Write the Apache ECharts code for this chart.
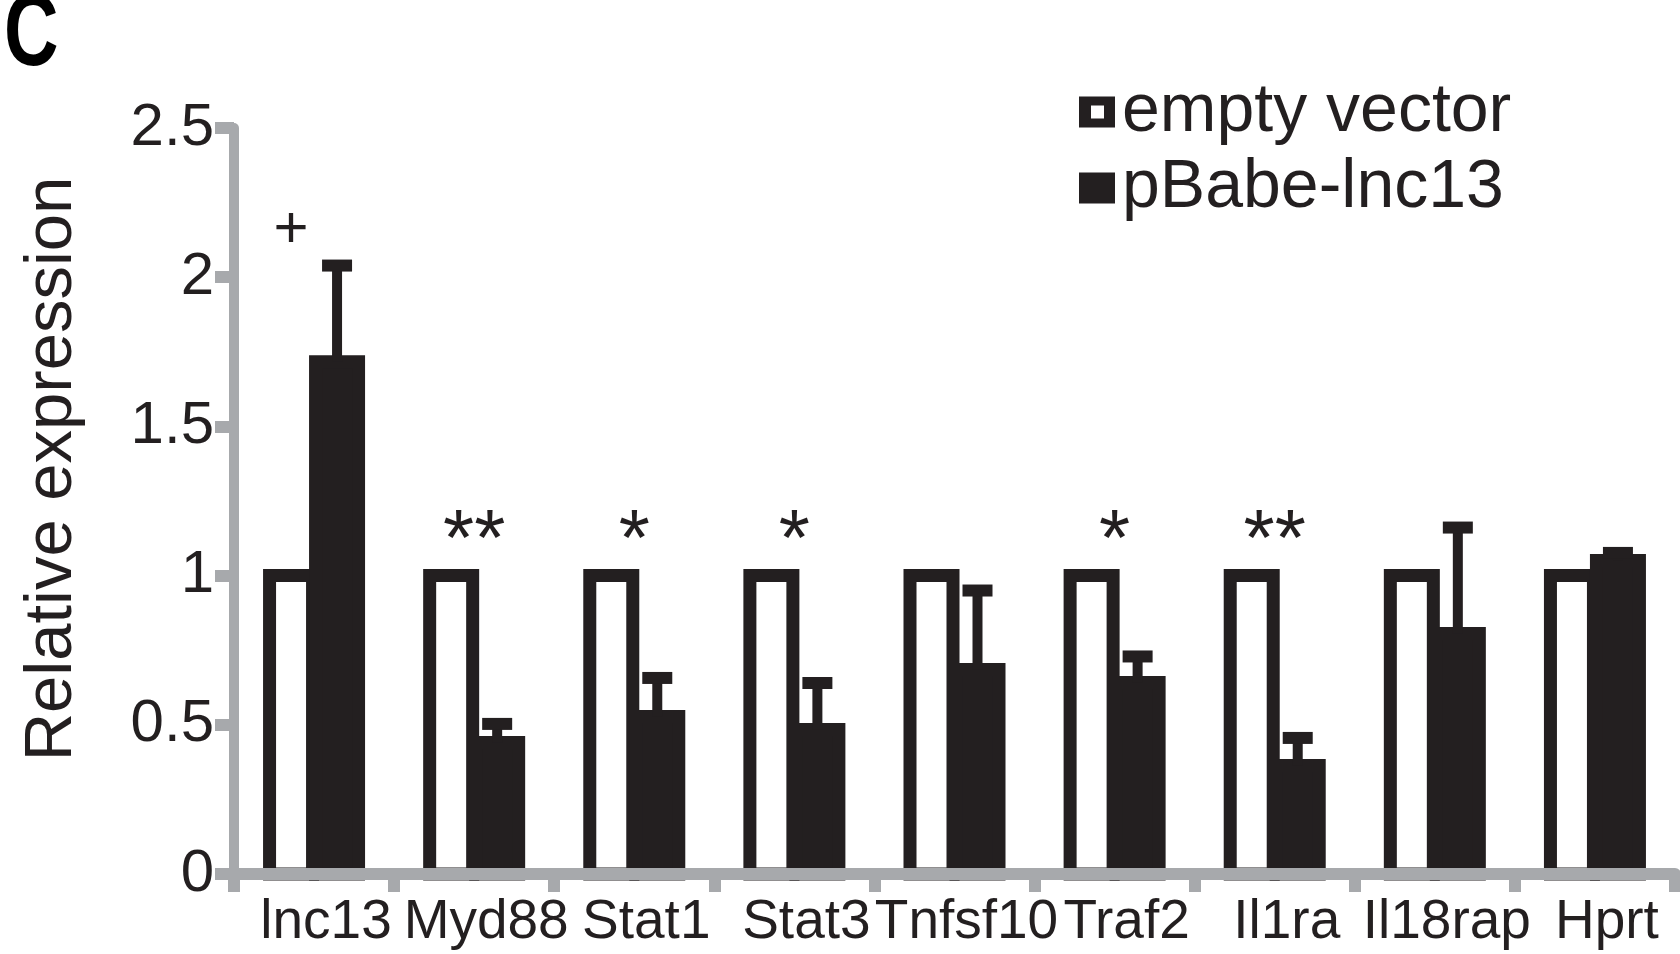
<!DOCTYPE html>
<html>
<head>
<meta charset="utf-8">
<script src="https://cdn.jsdelivr.net/npm/echarts@6/dist/echarts.min.js"></script>
<style>
html,body{margin:0;padding:0;background:#fff;}
#chart{width:1680px;height:954px;}
</style>
</head>
<body>
<div id="chart"></div>
<script>
// ---- data ----
const categories = ['lnc13', 'Myd88', 'Stat1', 'Stat3', 'Tnfsf10', 'Traf2', 'Il1ra', 'Il18rap', 'Hprt'];
const emptyVector = [1, 1, 1, 1, 1, 1, 1, 1, 1];
const pBabeLnc13 = [1.717, 0.441, 0.528, 0.484, 0.685, 0.642, 0.364, 0.806, 1.051];
const pBabeErrUpper = [2.039, 0.503, 0.657, 0.640, 0.950, 0.729, 0.456, 1.161, 1.076];
const annotationCats = ['lnc13', 'Myd88', 'Stat1', 'Stat3', 'Traf2', 'Il1ra'];
const annotationText = ['+', '**', '*', '*', '*', '**'];
const annotationY = [2.155, 1.11, 1.11, 1.11, 1.11, 1.11];
const yTicks = [0, 0.5, 1, 1.5, 2, 2.5];
const seriesNames = ['empty vector', 'pBabe-lnc13'];

// ---- styling constants ----
const INK = '#231f20';
const GREY = '#a7a9ac';
const FONT = "'Liberation Sans', Arial, Helvetica, sans-serif";
const BAR_W = 43;      // bar body width (border drawn centred on its edge)
const BORDER = 13;
const BLACK_OFFSET = 23; // half distance between the two bar centres

const chart = echarts.init(document.getElementById('chart'), null, {renderer: 'canvas'});

const whiteData = categories.map((c, i) => [i, emptyVector[i]]);
const blackData = categories.map((c, i) => [i, pBabeLnc13[i]]);
const errData = categories.map((c, i) => [i, pBabeLnc13[i], pBabeErrUpper[i]]);
const annData = annotationCats.map((c, k) => [categories.indexOf(c), annotationY[k], k]);

function barRenderer(sign, fill) {
  return function (params, api) {
    const top = api.coord([api.value(0), api.value(1)]);
    const zero = api.coord([api.value(0), 0]);
    const cx = top[0] + sign * BLACK_OFFSET;
    return {
      type: 'rect',
      shape: {x: cx - BAR_W / 2, y: top[1], width: BAR_W, height: zero[1] - top[1]},
      style: {fill: fill, stroke: INK, lineWidth: BORDER}
    };
  };
}

const option = {
  animation: false,
  backgroundColor: '#fff',
  graphic: [{
    type: 'text', left: 4, top: -14, scaleX: 0.74,
    style: {text: 'C', fill: '#000', font: "bold 102px 'Liberation Sans', Arial, sans-serif"}
  }],
  legend: {
    orient: 'vertical', left: 1074, top: 73, itemGap: 8,
    itemWidth: 36, itemHeight: 31,
    textStyle: {fontFamily: FONT, fontSize: 68, color: INK, padding: [0, 0, 0, 2]},
    data: [
      {name: seriesNames[0], icon: 'path://M0,0H36V31H0Z M12,9V22H25V9Z', itemStyle: {color: INK, borderWidth: 0}},
      {name: seriesNames[1], icon: 'rect', itemStyle: {color: INK, borderWidth: 0}}
    ]
  },
  grid: {left: 234, right: 5, top: 128, bottom: 80},
  xAxis: {
    type: 'category', data: categories, z: 10,
    axisLine: {lineStyle: {color: GREY, width: 12}},
    axisTick: {show: true, length: 18, lineStyle: {color: GREY, width: 12}},
    axisLabel: {interval: 0, margin: 21, fontFamily: FONT, fontSize: 55, color: INK, padding: [0, 0, 0, 24]}
  },
  yAxis: {
    type: 'value', min: yTicks[0], max: yTicks[yTicks.length - 1], interval: 0.5, z: 10,
    name: 'Relative expression', nameLocation: 'middle', nameGap: 148, nameRotate: 90,
    nameTextStyle: {fontFamily: FONT, fontSize: 67, color: INK, padding: [0, 0, 0, 64]},
    splitLine: {show: false},
    axisLine: {show: true, lineStyle: {color: GREY, width: 10}},
    axisTick: {show: true, length: 19, lineStyle: {color: GREY, width: 12}},
    axisLabel: {margin: 20, fontFamily: FONT, fontSize: 60, color: INK}
  },
  series: [
    {
      name: seriesNames[0], type: 'custom', z: 2, data: whiteData,
      encode: {x: 0, y: 1},
      itemStyle: {color: '#fff'},
      renderItem: barRenderer(-1, '#fff')
    },
    {
      name: seriesNames[1], type: 'custom', z: 2, data: blackData,
      encode: {x: 0, y: 1},
      itemStyle: {color: INK},
      renderItem: barRenderer(1, INK)
    },
    {
      type: 'custom', name: 'err', z: 3, data: errData,
      encode: {x: 0, y: 2},
      renderItem: function (params, api) {
        const base = api.coord([api.value(0), api.value(1)]);
        const up = api.coord([api.value(0), api.value(2)]);
        const x = base[0] + BLACK_OFFSET;
        return {
          type: 'group',
          children: [
            {type: 'rect', shape: {x: x - 5, y: up[1], width: 10, height: base[1] - up[1]}, style: {fill: INK}},
            {type: 'rect', shape: {x: x - 15, y: up[1] - 6, width: 30, height: 12}, style: {fill: INK}}
          ]
        };
      }
    },
    {
      type: 'custom', name: 'ann', z: 4, data: annData,
      encode: {x: 0, y: 1},
      renderItem: function (params, api) {
        const p = api.coord([api.value(0), api.value(1)]);
        const t = annotationText[api.value(2)];
        const isPlus = t === '+';
        return {
          type: 'text',
          x: p[0] - (isPlus ? BLACK_OFFSET : 0), y: p[1],
          style: {
            text: t, fill: INK, align: 'center', verticalAlign: 'middle',
            font: (isPlus ? '60px ' : '80px ') + FONT
          }
        };
      }
    }
  ]
};
chart.setOption(option);
</script>
</body>
</html>
